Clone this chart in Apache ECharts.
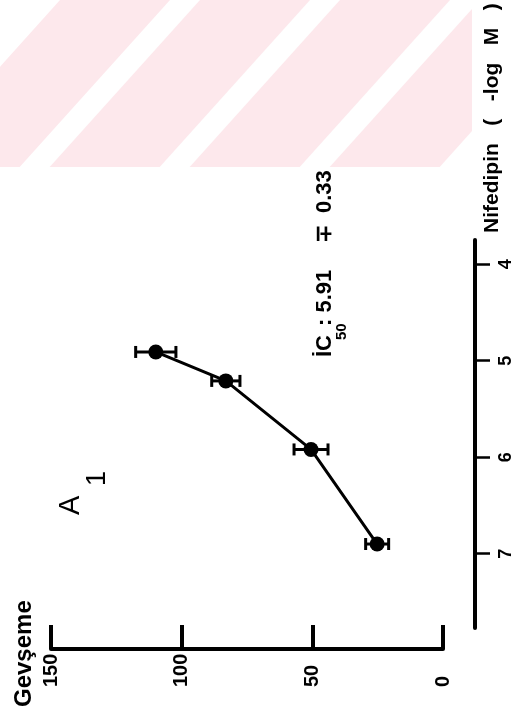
<!DOCTYPE html>
<html><head><meta charset="utf-8">
<script src="https://cdn.jsdelivr.net/npm/echarts@6/dist/echarts.min.js"></script>
<style>html,body{margin:0;padding:0;background:#fff}#c{width:514px;height:713px}</style>
</head><body><div id="c"></div>
<script>
// Data read from the (rotated) figure
const nifedipin = [6.90, 5.92, 5.21, 4.91];      // -log M
const gevseme = [25.2, 50.5, 83.1, 109.9];       // relaxation
const gevsemeErr = [4.4, 6.5, 5.4, 7.7];          // error bar half-width
const gevsemeTicks = [0, 50, 100, 150];
const nifedipinTicks = [4, 5, 6, 7];

const FONT = '"Liberation Sans", Arial, Helvetica, sans-serif';
const points = nifedipin.map((n, i) => [gevseme[i], n]);
const errData = nifedipin.map((n, i) => [gevseme[i] - gevsemeErr[i], gevseme[i] + gevsemeErr[i], n]);

// decorative watermark stripes (clipped on the right)
const stripePolys = [
  [[60, 0], [170, 0], [19.7, 167], [-90.3, 167]],
  [[200, 0], [310, 0], [159.7, 167], [49.7, 167]],
  [[340, 0], [450, 0], [299.7, 167], [189.7, 167]],
  [[472, 8.9], [472, 131.1], [439.7, 167], [329.7, 167]]
];
const stripes = stripePolys.map(p => ({
  type: 'polygon', z: 0, silent: true,
  shape: { points: p },
  style: { fill: '#fde8ec' }
}));

function vtext(text, x, y, size, weight) {
  return {
    type: 'text', x: x, y: y, rotation: Math.PI / 2, z: 10, silent: true,
    style: { text: text, fontSize: size, fontWeight: weight, fontFamily: FONT, fill: '#000', align: 'left', verticalAlign: 'middle' }
  };
}

const texts = [
  vtext('Gevşeme', 24, 707, 24, 'bold'),
  vtext('Nifedipin   (   -log   M   )', 492, 233, 21, 'bold'),
  vtext('A', 71, 515, 29, 'normal'),
  vtext('1', 98, 486, 27, 'normal'),
  vtext('İC', 325, 357, 22, 'bold'),
  vtext('50', 342, 340, 15, 'bold'),
  vtext(': 5.91', 325, 326, 22, 'bold'),
  vtext('∓', 325, 243, 22, 'bold'),
  vtext('0.33', 325, 213, 22, 'bold')
];

const chart = echarts.init(document.getElementById('c'), null, { renderer: 'canvas' });
chart.setOption({
  animation: false,
  backgroundColor: '#fff',
  graphic: { elements: stripes.concat(texts) },
  grid: { left: 51, top: 240, width: 392, height: 388, containLabel: false, outerBoundsMode: 'none' },
  xAxis: {
    type: 'value', inverse: true, min: gevsemeTicks[0], max: gevsemeTicks[gevsemeTicks.length - 1], interval: 50,
    position: 'bottom', offset: 21,
    axisLine: { show: true, onZero: false, lineStyle: { color: '#000', width: 4 } },
    axisTick: { show: true, inside: true, length: 24, lineStyle: { color: '#000', width: 4 } },
    axisLabel: { rotate: 90, align: 'left', verticalAlign: 'middle', margin: 38, fontSize: 20, fontWeight: 'bold', fontFamily: FONT, color: '#000' },
    splitLine: { show: false }
  },
  yAxis: {
    type: 'value', inverse: true, min: 3.75, max: 7.77, position: 'right', offset: 32,
    axisLine: { show: true, onZero: false, lineStyle: { color: '#000', width: 4 } },
    axisTick: { show: true, inside: false, length: 15, customValues: nifedipinTicks, lineStyle: { color: '#000', width: 2.5 } },
    axisLabel: { rotate: 90, margin: 22, customValues: nifedipinTicks, fontSize: 18, fontWeight: 'bold', fontFamily: FONT, color: '#000' },
    splitLine: { show: false }
  },
  series: [
    {
      type: 'custom', z: 3,
      renderItem: function (params, api) {
        const y = api.value(2);
        const p1 = api.coord([api.value(0), y]);
        const p2 = api.coord([api.value(1), y]);
        const h = 6;
        const st = { stroke: '#000', lineWidth: 3 };
        return {
          type: 'group', children: [
            { type: 'line', shape: { x1: p1[0], y1: p1[1], x2: p2[0], y2: p2[1] }, style: st },
            { type: 'line', shape: { x1: p1[0], y1: p1[1] - h, x2: p1[0], y2: p1[1] + h }, style: st },
            { type: 'line', shape: { x1: p2[0], y1: p2[1] - h, x2: p2[0], y2: p2[1] + h }, style: st }
          ]
        };
      },
      encode: { x: [0, 1], y: 2 },
      data: errData
    },
    {
      type: 'line', z: 4, data: points, symbol: 'circle', symbolSize: 15, showSymbol: true,
      itemStyle: { color: '#000' }, lineStyle: { color: '#000', width: 3 }
    }
  ]
});
</script></body></html>
